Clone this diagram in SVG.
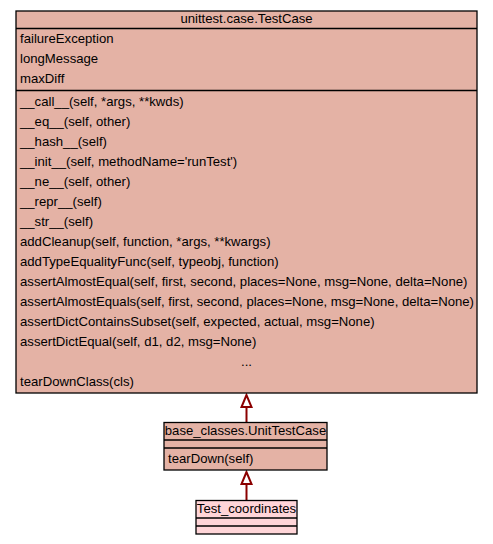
<svg xmlns="http://www.w3.org/2000/svg" width="493" height="544" viewBox="0 0 493 544">
<style>
.box{fill:#e4b2a5;stroke:#000;stroke-width:1.3}
.leaf{fill:#ffd5d8;stroke:#000;stroke-width:1.3}
.sep{stroke:#000;stroke-width:1.3}
text{font-family:"Liberation Sans",Arial,sans-serif;font-size:13.15px;fill:#000}
.c{text-anchor:middle}
.edge{stroke:#8b0000;stroke-width:2;fill:none}
.head{fill:#fff;stroke:#8b0000;stroke-width:2}
</style>
<rect width="493" height="544" fill="#fff"/>
<g id="connectors">
<line class="edge" x1="246.5" y1="422" x2="246.5" y2="407"/>
<polygon class="head" points="246.5,395 241.5,407 251.5,407"/>
<line class="edge" x1="246.5" y1="500" x2="246.5" y2="484"/>
<polygon class="head" points="246.5,472 241.5,484 251.5,484"/>
</g>
<g id="unittest.case.TestCase">
<rect class="box" x="16" y="11" width="461" height="382"/>
<line class="sep" x1="16" y1="28.5" x2="477" y2="28.5"/>
<line class="sep" x1="16" y1="90.5" x2="477" y2="90.5"/>
<text class="c" x="246.5" y="23">unittest.case.TestCase</text>
<text x="20" y="43">failureException</text>
<text x="20" y="63">longMessage</text>
<text x="20" y="83">maxDiff</text>
<text x="20" y="106">__call__(self, *args, **kwds)</text>
<text x="20" y="126">__eq__(self, other)</text>
<text x="20" y="146">__hash__(self)</text>
<text x="20" y="166">__init__(self, methodName='runTest')</text>
<text x="20" y="186">__ne__(self, other)</text>
<text x="20" y="206">__repr__(self)</text>
<text x="20" y="226">__str__(self)</text>
<text x="20" y="246">addCleanup(self, function, *args, **kwargs)</text>
<text x="20" y="266">addTypeEqualityFunc(self, typeobj, function)</text>
<text x="20" y="286">assertAlmostEqual(self, first, second, places=None, msg=None, delta=None)</text>
<text x="20" y="306">assertAlmostEquals(self, first, second, places=None, msg=None, delta=None)</text>
<text x="20" y="326">assertDictContainsSubset(self, expected, actual, msg=None)</text>
<text x="20" y="346">assertDictEqual(self, d1, d2, msg=None)</text>
<text class="c" x="246.5" y="366">...</text>
<text x="20" y="386">tearDownClass(cls)</text>
</g>
<g id="base_classes.UnitTestCase">
<rect class="box" x="164" y="422.5" width="163" height="47.5"/>
<line class="sep" x1="164" y1="440" x2="327" y2="440"/>
<line class="sep" x1="164" y1="448" x2="327" y2="448"/>
<text class="c" x="245.5" y="435">base_classes.UnitTestCase</text>
<text x="168" y="463">tearDown(self)</text>
</g>
<g id="Test_coordinates">
<rect class="leaf" x="196" y="500.5" width="101" height="33.5"/>
<line class="sep" x1="196" y1="518" x2="297" y2="518"/>
<line class="sep" x1="196" y1="526" x2="297" y2="526"/>
<text class="c" x="246.5" y="513">Test_coordinates</text>
</g>
</svg>
